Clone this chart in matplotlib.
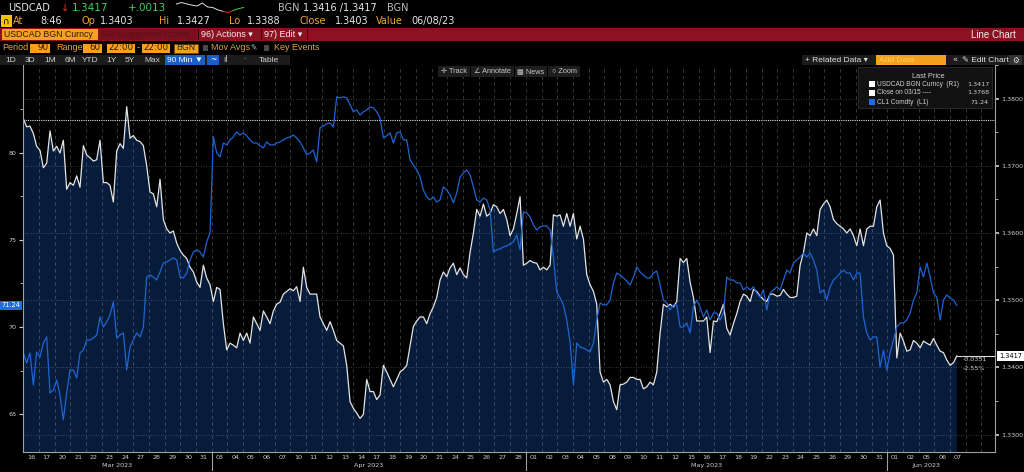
import numpy as np
import matplotlib
matplotlib.use("Agg")
import matplotlib.pyplot as plt
import matplotlib.transforms as mtransforms
from matplotlib.patches import Rectangle

plt.rcParams['font.family'] = ['DejaVu Sans']
NARROW = ['Liberation Sans Narrow', 'Liberation Sans', 'DejaVu Sans']

W, H = 1024, 472

# sessions on the x axis (90 days range, 60 trading sessions)
days = ["16", "17", "20", "21", "22", "23", "24", "27", "28", "29", "30", "31",
        "03", "04", "05", "06", "07", "10", "11", "12", "13", "14", "17", "18", "19", "20",
        "21", "24", "25", "26", "27", "28",
        "01", "02", "03", "04", "05", "08", "09", "10", "11", "12", "15", "16", "17", "18",
        "19", "22", "23", "24", "25", "26", "29", "30", "31",
        "01", "02", "05", "06", "07"]
months = ["Mar 2023", "Apr 2023", "May 2023", "Jun 2023"]
month_start = [0, 12, 32, 55]

close_0315 = 1.3768
usd_ticks = [1.33, 1.34, 1.35, 1.36, 1.37, 1.38]
cl_ticks = [65, 70, 75, 80]

# sampling of both series, in sessions from 16 Mar
t0 = -0.488
step = 0.2122

usdcad = [
    1.3770, 1.3758, 1.3759, 1.3748, 1.3729, 1.3723, 1.3697, 1.3704, 1.3752, 1.3722,
    1.3729, 1.3719, 1.3738, 1.3665, 1.3675, 1.3671, 1.3685, 1.3668, 1.3730, 1.3716,
    1.3712, 1.3707, 1.3709, 1.3738, 1.3675, 1.3675, 1.3671, 1.3646, 1.3722, 1.3733,
    1.3726, 1.3788, 1.3741, 1.3745, 1.3738, 1.3736, 1.3730, 1.3700, 1.3661, 1.3658,
    1.3639, 1.3680, 1.3620, 1.3606, 1.3600, 1.3603, 1.3585, 1.3574, 1.3567, 1.3562,
    1.3549, 1.3542, 1.3527, 1.3519, 1.3552, 1.3533, 1.3523, 1.3498, 1.3519, 1.3516,
    1.3465, 1.3426, 1.3436, 1.3433, 1.3429, 1.3451, 1.3440, 1.3451, 1.3436, 1.3475,
    1.3465, 1.3455, 1.3484, 1.3475, 1.3465, 1.3484, 1.3494, 1.3497, 1.3509, 1.3513,
    1.3517, 1.3514, 1.3520, 1.3498, 1.3549, 1.3519, 1.3509, 1.3509, 1.3509, 1.3475,
    1.3465, 1.3455, 1.3468, 1.3455, 1.3440, 1.3436, 1.3432, 1.3403, 1.3349, 1.3339,
    1.3332, 1.3324, 1.3330, 1.3382, 1.3364, 1.3364, 1.3352, 1.3359, 1.3403, 1.3393,
    1.3382, 1.3371, 1.3382, 1.3393, 1.3397, 1.3403, 1.3432, 1.3461, 1.3469, 1.3475,
    1.3475, 1.3465, 1.3480, 1.3490, 1.3504, 1.3530, 1.3542, 1.3535, 1.3548, 1.3555,
    1.3538, 1.3548, 1.3538, 1.3533, 1.3571, 1.3600, 1.3635, 1.3625, 1.3643, 1.3625,
    1.3629, 1.3642, 1.3639, 1.3629, 1.3635, 1.3620, 1.3596, 1.3606, 1.3629, 1.3654,
    1.3552, 1.3555, 1.3559, 1.3556, 1.3555, 1.3545, 1.3549, 1.3545, 1.3552, 1.3627,
    1.3625, 1.3627, 1.3610, 1.3629, 1.3610, 1.3629, 1.3591, 1.3610, 1.3591, 1.3538,
    1.3523, 1.3513, 1.3494, 1.3393, 1.3378, 1.3382, 1.3374, 1.3349, 1.3337, 1.3374,
    1.3375, 1.3378, 1.3385, 1.3385, 1.3382, 1.3382, 1.3368, 1.3371, 1.3378, 1.3374,
    1.3393, 1.3451, 1.3494, 1.3490, 1.3494, 1.3490, 1.3498, 1.3562, 1.3556, 1.3562,
    1.3527, 1.3504, 1.3469, 1.3469, 1.3469, 1.3475, 1.3422, 1.3469, 1.3468, 1.3480,
    1.3494, 1.3458, 1.3448, 1.3465, 1.3480, 1.3498, 1.3509, 1.3506, 1.3498, 1.3516,
    1.3513, 1.3506, 1.3501, 1.3498, 1.3509, 1.3509, 1.3506, 1.3507, 1.3516, 1.3509,
    1.3504, 1.3504, 1.3506, 1.3552, 1.3571, 1.3600, 1.3596, 1.3606, 1.3596, 1.3635,
    1.3643, 1.3649, 1.3639, 1.3620, 1.3614, 1.3610, 1.3606, 1.3600, 1.3606, 1.3596,
    1.3581, 1.3606, 1.3581, 1.3606, 1.3610, 1.3610, 1.3639, 1.3649, 1.3600, 1.3581,
    1.3577, 1.3567, 1.3414, 1.3451, 1.3439, 1.3424, 1.3426, 1.3440, 1.3436, 1.3429,
    1.3439, 1.3436, 1.3433, 1.3443, 1.3433, 1.3424, 1.3422, 1.3411, 1.3403, 1.3407,
    1.3417,
]

cl1 = [
    68.51, 67.93, 68.51, 66.67, 68.56, 68.28, 69.08, 69.43, 66.21, 66.38,
    66.95, 66.09, 64.66, 66.21, 67.53, 67.53, 67.07, 68.51, 68.68, 69.25,
    69.25, 69.37, 69.54, 70.57, 70.00, 70.29, 70.69, 71.44, 69.37, 69.54,
    69.66, 67.53, 68.85, 69.25, 69.66, 69.43, 70.00, 72.87, 72.99, 72.87,
    72.70, 73.16, 73.68, 73.74, 73.85, 73.97, 73.85, 72.87, 72.82, 73.10,
    73.85, 74.31, 74.43, 74.31, 74.02, 74.89, 75.40, 80.92, 80.00, 79.77,
    80.57, 80.46, 80.75, 80.92, 81.21, 81.03, 81.15, 80.98, 80.75, 80.57,
    80.57, 80.40, 80.29, 80.63, 80.46, 80.46, 80.57, 80.63, 80.75, 80.86,
    80.92, 81.03, 80.86, 80.63, 80.29, 79.89, 80.00, 80.17, 79.48, 81.44,
    81.55, 81.67, 81.72, 81.49, 83.22, 83.16, 83.22, 83.16, 82.76, 82.36,
    82.47, 82.18, 82.36, 82.47, 82.64, 82.59, 82.36, 82.01, 80.86, 80.98,
    81.15, 80.57, 81.15, 81.21, 80.75, 80.75, 79.60, 79.31, 79.02, 78.62,
    77.87, 77.47, 77.30, 77.47, 77.18, 77.30, 78.05, 77.87, 77.59, 77.13,
    77.70, 78.62, 78.85, 79.02, 78.74, 78.05, 77.30, 77.18, 77.41, 77.30,
    76.72, 74.31, 74.43, 74.48, 74.60, 74.66, 74.77, 74.89, 75.28, 74.43,
    76.61, 76.55, 76.32, 75.86, 75.57, 75.75, 75.80, 75.80, 75.57, 74.02,
    72.01, 71.67, 71.27, 70.40, 69.14, 66.67, 69.08, 68.85, 68.79, 68.68,
    68.56, 69.08, 70.40, 71.38, 71.27, 71.27, 71.55, 72.53, 73.10, 72.99,
    72.82, 72.64, 72.41, 72.87, 73.45, 73.16, 72.99, 72.82, 72.82, 73.10,
    73.22, 72.41, 71.55, 71.38, 70.98, 71.27, 71.27, 70.00, 70.00, 70.23,
    69.66, 71.15, 71.55, 71.15, 70.57, 70.98, 70.40, 70.80, 70.80, 70.40,
    70.80, 72.87, 72.70, 72.70, 72.53, 72.53, 72.13, 72.30, 72.13, 72.30,
    71.95, 71.72, 72.13, 70.98, 71.95, 72.13, 72.30, 72.13, 72.70, 73.27,
    73.10, 73.68, 73.85, 74.02, 74.25, 74.02, 74.25, 73.85, 73.27, 71.95,
    72.13, 71.55, 72.30, 72.70, 72.87, 73.10, 73.27, 73.10, 73.10, 72.70,
    73.10, 73.10, 70.57, 69.66, 69.25, 69.43, 69.43, 67.70, 68.68, 67.53,
    68.51, 69.25, 70.00, 70.23, 70.23, 70.40, 70.80, 71.55, 71.95, 73.45,
    72.87, 73.68, 72.87, 71.95, 71.72, 70.40, 71.55, 71.84, 71.67, 71.55,
    71.24,
]

# intraday sparkline in the header
spark = [1.3418, 1.3423, 1.3418, 1.3414, 1.3411, 1.3421, 1.3408, 1.3406,
         1.3398, 1.3393, 1.3389, 1.3396, 1.3402, 1.3406]

ORANGE = "#f2a33a"
BOXOR = "#f5a01e"
GREY = "#d0d0d0"

fig = plt.figure(figsize=(W / 100, H / 100), dpi=100, facecolor="black")


def fx(x):
    return x / W


def fy(y):
    return 1 - y / H


def box(x0, y0, x1, y1, color, ec="none", z=5):
    fig.add_artist(Rectangle((fx(x0), fy(y1)), (x1 - x0) / W, (y1 - y0) / H,
                             transform=fig.transFigure, facecolor=color,
                             edgecolor=ec, lw=0.6, zorder=z))


def txt(x, y, s, color="#e6e6e6", size=7, ha="left", z=6, **kw):
    fig.text(fx(x), fy(y), s, color=color, fontsize=size, ha=ha, va="center",
             zorder=z, **kw)


# ---- main chart
ax = fig.add_axes([fx(23), fy(452), (995 - 23) / W, (452 - 65) / H])
ax.set_facecolor("black")
axc = ax.twinx()

t_usd = t0 + step * np.arange(len(usdcad))
t_cl = t0 + step * np.arange(len(cl1))

ax.fill_between(t_usd, usdcad, 1.30, color="#061c3a", lw=0, zorder=1)
for i in range(-1, len(days) + 1):
    ax.axvline(i + 0.5, color="white", alpha=0.25, lw=0.6, ls=(0, (4, 4)), zorder=2)
for v in usd_ticks:
    ax.axhline(v, color="white", alpha=0.3, lw=0.6, ls=(0, (1, 2)), zorder=2)
ax.axhline(close_0315, color="#e0e0e0", lw=0.8, ls=(0, (1, 1)), zorder=3)
ax.plot(t_usd, usdcad, color="#e4e4e4", lw=0.9, zorder=4)
axc.plot(t_cl, cl1, color="#1e64d2", lw=0.9)

x_right = 61.36
ax.set_xlim(-0.51, x_right)
ax.set_ylim(1.3274, 1.3835)
axc.set_ylim(62.82, 85.05)

ax.yaxis.tick_right()
axc.yaxis.tick_left()
ax.set_yticks(usd_ticks)
ax.set_yticklabels([f"{v:.4f}" for v in usd_ticks])
ax.set_yticks([v + 0.005 for v in usd_ticks], minor=True)
ax.tick_params(axis="y", which="major", colors=GREY, labelsize=4.6, length=3,
               width=1.2, pad=1.5)
ax.tick_params(axis="y", which="minor", colors="#aaaaaa", length=2.5, width=0.7)
axc.set_yticks(cl_ticks)
axc.set_yticklabels([str(v) for v in cl_ticks])
axc.set_yticks([v + 2.5 for v in cl_ticks], minor=True)
axc.tick_params(axis="y", which="major", colors=GREY, labelsize=4.6, length=3,
                width=0.8, pad=1.5)
axc.tick_params(axis="y", which="minor", colors="#aaaaaa", length=2.5, width=0.7)

ax.set_xticks(range(len(days)))
ax.set_xticklabels(days)
ax.tick_params(axis="x", length=0, labelsize=4.6, colors=GREY, pad=2.5)

for a in (ax, axc):
    for s in a.spines.values():
        s.set_visible(False)
for s in ("right", "bottom"):
    ax.spines[s].set_visible(True)
    ax.spines[s].set_color("#a0a0a0")
    ax.spines[s].set_linewidth(0.8)
axc.spines["left"].set_visible(True)
axc.spines["left"].set_color("#a0a0a0")
axc.spines["left"].set_linewidth(0.8)

trans = mtransforms.blended_transform_factory(ax.transData, ax.transAxes)
ends = month_start[1:] + [len(days)]
for name, s, e in zip(months, month_start, ends):
    ax.text((s + e - 1) / 2, -0.036, name, transform=trans, ha="center",
            va="center", fontsize=4.6, color=GREY)
for s in month_start[1:]:
    ax.plot([s - 0.5, s - 0.5], [0, -0.047], transform=trans, color="#a0a0a0",
            lw=0.8, clip_on=False)

# last values
last = usdcad[-1]
diff = last - close_0315
ax.plot([t_usd[-1], x_right], [last, last], color="#d8d8d8", lw=0.8, zorder=4)
rtrans = mtransforms.blended_transform_factory(ax.transAxes, ax.transData)
ax.text(1.004, last, f"{last:.4f}", transform=rtrans, fontsize=4.8, color="black",
        va="center", ha="left", clip_on=False,
        bbox=dict(boxstyle="square,pad=0.25", fc="white", ec="none"))
ax.text(t_usd[-1] + 0.4, last - 0.0006, f"{diff:.4f}", fontsize=4.6, color=GREY,
        va="center", zorder=5)
ax.text(t_usd[-1] + 0.4, last - 0.0019, f"{diff / close_0315 * 100:.2f}%",
        fontsize=4.6, color=GREY, va="center", zorder=5)
ltrans = mtransforms.blended_transform_factory(axc.transAxes, axc.transData)
axc.text(-0.003, cl1[-1], f"{cl1[-1]:.2f}", transform=ltrans, fontsize=4.8,
         color="white", va="center", ha="right", clip_on=False,
         bbox=dict(boxstyle="square,pad=0.25", fc="#1e6ee8", ec="none"))

# ---- header rows
txt(8, 8, "USDCAD", size=7)
txt(61, 8, "↓", color="#e8302a", size=7)
txt(72, 8, "1.3417", color="#3ed15a", size=7.5)
txt(128, 8, "+.0013", color="#3ed15a", size=7.5)
txt(278, 8, "BGN", color="#bdbdbd", size=7)
txt(303, 8, "1.3416 /1.3417", size=7)
txt(387, 8, "BGN", color="#bdbdbd", size=7)

sax = fig.add_axes([fx(173), fy(13), 74 / W, 11 / H])
sax.axis("off")
sx = np.arange(len(spark))
sax.plot(sx[:10], spark[:10], color="#e0e0e0", lw=0.7)
sax.plot(sx[9:12], spark[9:12], color="#e8302a", lw=0.7)
sax.plot(sx[11:], spark[11:], color="#3ed15a", lw=0.7)

box(1, 15, 12, 27, "#f0c400")
txt(6.5, 21, "∩", color="black", size=6.5, ha="center")
for x, s, c in [(13, "At", ORANGE), (40, "8:46", "#e6e6e6"), (82, "Op", ORANGE),
                (100, "1.3403", "#e6e6e6"), (159, "Hi", ORANGE),
                (177, "1.3427", "#e6e6e6"), (229, "Lo", ORANGE),
                (247, "1.3388", "#e6e6e6"), (299, "Close", ORANGE),
                (335, "1.3403", "#e6e6e6"), (376, "Value", ORANGE),
                (411, "06/08/23", "#e6e6e6")]:
    txt(x, 21, s, color=c, size=7)

box(0, 28, W, 41, "#8b1220", z=4)
box(2, 29, 98, 40, BOXOR)
txt(4, 34.5, "USDCAD BGN Curncy", color="#2a1a0a", size=6.3, family=NARROW)
box(99, 29, 197, 40, "#7a0f1d")
txt(102, 34.5, "94) Suggested Charts", color="#5a1019", size=6.5, family=NARROW)
txt(201, 34.5, "96) Actions ▾", color="#f0f0f0", size=6.5, family=NARROW)
txt(264, 34.5, "97) Edit ▾", color="#f0f0f0", size=6.5, family=NARROW)
for x in (198, 261, 307):
    box(x, 29, x + 1, 40, "#3a0008")
txt(1016, 34.5, "Line Chart", color="#f0f0f0", size=7, ha="right", family=NARROW)

txt(2, 48, "Period", color=ORANGE, size=6.5, family=NARROW)
box(30, 44, 50, 53, BOXOR)
txt(49, 48, "90", color="#202020", size=6.3, ha="right")
txt(56, 48, "Range", color=ORANGE, size=6.5, family=NARROW)
box(83, 44, 102, 53, BOXOR)
txt(101, 48, "60", color="#202020", size=6.3, ha="right")
box(107, 44, 135, 53, BOXOR)
txt(121, 48, "22:00", color="#202020", size=6.3, ha="center")
txt(137, 48, "-", color=ORANGE, size=6.3)
box(142, 44, 170, 53, BOXOR)
txt(156, 48, "22:00", color="#202020", size=6.3, ha="center")
box(174, 44, 198, 53, BOXOR, ec="#7a4a00")
txt(186, 48, "BGN", color="#202020", size=6.3, ha="center", family=NARROW)
box(203, 45, 208, 51, "#4a4a4a")
txt(211, 48, "Mov Avgs", color="#e0a040", size=6.5, family=NARROW)
txt(250, 48, "✎", color="#bbbbbb", size=5.5)
box(264, 45, 269, 51, "#4a4a4a")
txt(274, 48, "Key Events", color="#e0a040", size=6.5, family=NARROW)

box(0, 55, 290, 65, "#1c1c1c")
for x, s in [(11, "1D"), (30, "3D"), (50, "1M"), (70, "6M"), (90, "YTD"),
             (111, "1Y"), (130, "5Y"), (152, "Max")]:
    txt(x, 60, s, color=GREY, size=6, ha="center", family=NARROW)
box(165, 55, 205, 65, "#1a5fc8")
txt(185, 60, "90 Min ▼", color="white", size=6, ha="center", family=NARROW)
box(207, 55, 219, 65, "#1a5fc8")
txt(213, 60, "~", color="white", size=5.5, ha="center")
txt(226, 60, "ıl", color=GREY, size=5.5, ha="center")
txt(244, 60, "·", color=GREY, size=5.5, ha="center")
txt(269, 60, "Table", color=GREY, size=6, ha="center", family=NARROW)

box(802, 55, W, 65, "#1c1c1c")
txt(805, 60, "+ Related Data ▾", color="#e0e0e0", size=6, family=NARROW)
box(876, 55, 946, 65, BOXOR)
txt(879, 60, "Add Data", color="#ffd25a", size=6, family=NARROW)
txt(955, 60, "«", color=GREY, size=6, ha="center")
txt(962, 60, "✎ Edit Chart", color="#e0e0e0", size=6, family=NARROW)
box(1009, 55, 1022, 65, "#333333")
txt(1015.5, 60, "⚙", color="#e0e0e0", size=5.5, ha="center")

# plot toolbar
for x0, x1, s in [(438, 470, "✛ Track"), (471, 514, "∠ Annotate"),
                  (515, 547, "▦ News"), (548, 580, "○ Zoom")]:
    box(x0, 66, x1, 77, "#1e1e1e")
    txt((x0 + x1) / 2, 71.5, s, color="#c8c8c8", size=5.2, ha="center",
        family=NARROW)

# legend box
box(858, 67, 992, 108, "#121212", ec="#2e2e2e")
txt(928, 76, "Last Price", color=GREY, size=5.3, ha="center", family=NARROW)
rows = [("USDCAD BGN Curncy  (R1)", f"{last:.4f}", "white"),
        ("Close on 03/15 ----", f"{close_0315:.4f}", "white"),
        ("CL1 Comdty  (L1)", f"{cl1[-1]:.2f}", "#1e6ee8")]
for k, (lab, val, c) in enumerate(rows):
    y = 84 + 9 * k
    box(869, y - 3, 875, y + 3, c, z=7)
    txt(877, y, lab, color=GREY, size=4.7, family=NARROW)
    txt(989, y, val, color=GREY, size=4.6, ha="right")

fig.savefig("out.png", dpi=100, facecolor="black")
